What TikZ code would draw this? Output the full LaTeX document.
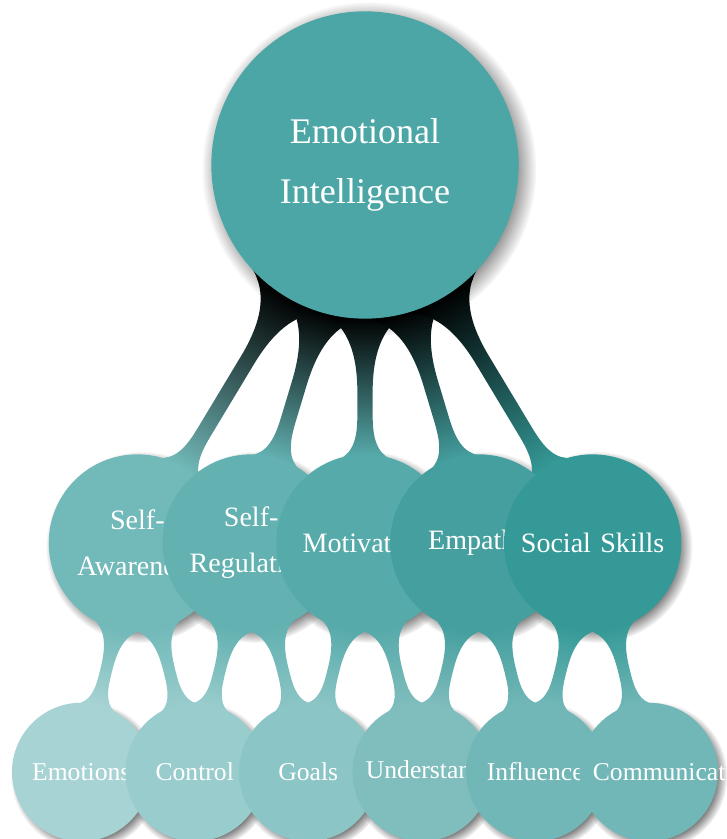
\documentclass[tikz,border=0pt]{standalone}
\usepackage{fontspec}
\setmainfont{Liberation Serif}
\usetikzlibrary{mindmap,shadows}
\hyphenpenalty=10000

% concept colours
\definecolor{eicol}{HTML}{4DA6A6}
\definecolor{awarecol}{HTML}{72B9B9}
\definecolor{regulcol}{HTML}{63B1B1}
\definecolor{motivcol}{HTML}{57AAAA}
\definecolor{empathcol}{HTML}{449F9E}
\definecolor{socialcol}{HTML}{359A97}
\definecolor{emocol}{HTML}{A8D3D4}
\definecolor{ctrlcol}{HTML}{99CCCC}
\definecolor{goalcol}{HTML}{8CC5C6}
\definecolor{undcol}{HTML}{80BDBD}
\definecolor{inflcol}{HTML}{72B7B7}
\definecolor{commcol}{HTML}{72B7B7}

\pgfdeclarelayer{shade}
\pgfdeclarelayer{links}
\pgfsetlayers{shade,links,main}

\begin{document}
\begin{tikzpicture}[mindmap, x=0.013158cm, y=0.013158cm,
    topic/.style={concept, concept color=#1, text=white, align=center, inner sep=0pt},
    root topic/.style={topic=#1, minimum size=4cm, text width=3cm,
      font=\fontsize{13.5}{22.2}\selectfont},
    main topic/.style={topic=#1, minimum size=2.29cm, text width=1.9cm,
      font=\fontsize{10.5}{17.1}\selectfont},
    sub topic/.style={topic=#1, minimum size=1.78cm, text width=1.47cm,
      font=\fontsize{9.6}{12}\selectfont}]
  \useasboundingbox (0,0) rectangle (726,839);

  \node[root topic=eicol] (ei) at (365,674) {Emotional\\Intelligence};

  \node[main topic=awarecol]  (aware)  at (137.4,296) {Self-\\Awareness};
  \node[main topic=regulcol]  (regul)  at (251.2,296) {Self-\\Regulation};
  \node[main topic=motivcol]  (motiv)  at (365,296)   {Motivation};
  \node[main topic=empathcol] (empath) at (478.8,296) {Empathy};
  \node[main topic=socialcol] (social) at (592.6,296) {Social Skills};

  \node[sub topic=emocol]  (emo)  at (81.25,67)  {Emotions};
  \node[sub topic=ctrlcol] (ctrl) at (194.75,67) {Control};
  \node[sub topic=goalcol] (goal) at (308.25,67) {Goals};
  \node[sub topic=undcol]  (und)  at (421.75,67) {Understanding};
  \node[sub topic=inflcol] (infl) at (535.25,67) {Influence};
  \node[sub topic=commcol] (comm) at (648.75,67) {Communication};

  % bars between the circles
  \begin{pgfonlayer}{links}
    \foreach \n/\c in {aware/awarecol, regul/regulcol, motiv/motivcol,
                       empath/empathcol, social/socialcol}
      \path (ei) to[circle connection bar switch color=from (black) to (\c)] (\n);
    \foreach \a/\ca/\b/\cb in {aware/awarecol/emo/emocol, aware/awarecol/ctrl/ctrlcol,
                               regul/regulcol/ctrl/ctrlcol, regul/regulcol/goal/goalcol,
                               motiv/motivcol/goal/goalcol, motiv/motivcol/und/undcol,
                               empath/empathcol/und/undcol, empath/empathcol/infl/inflcol,
                               social/socialcol/infl/inflcol, social/socialcol/comm/commcol}
      \path (\a) to[circle connection bar switch color=from (\ca) to (\cb)] (\b);
  \end{pgfonlayer}

  % shadows under everything
  \begin{pgfonlayer}{shade}
    \foreach \n/\r in {ei/2cm, aware/1.145cm, regul/1.145cm, motiv/1.145cm,
                       empath/1.145cm, social/1.145cm, emo/0.89cm, ctrl/0.89cm,
                       goal/0.89cm, und/0.89cm, infl/0.89cm, comm/0.89cm}
      \path[circular drop shadow] (\n) circle[radius=\r];
  \end{pgfonlayer}
\end{tikzpicture}
\end{document}
